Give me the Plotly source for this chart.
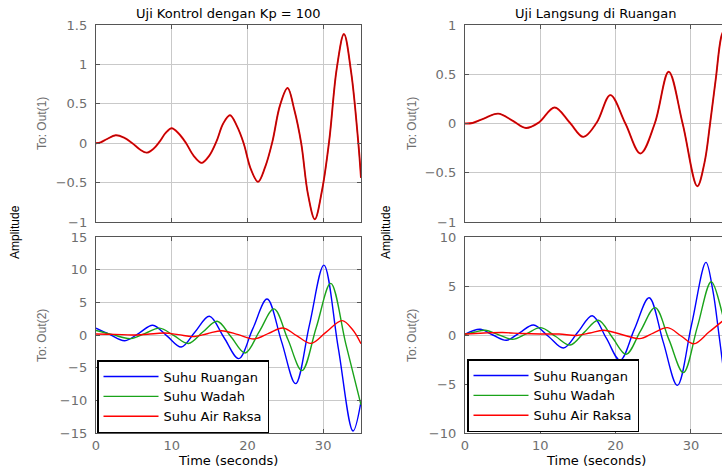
import plotly.graph_objects as go

# ---------------- data ----------------
# Top-left: Uji Kontrol dengan Kp = 100, Out(1)
tl_x = [0, 0.6, 1.4, 2.6, 3.7, 4.8, 5.8, 6.7, 7.6, 8.4, 9.2, 10.0, 10.95, 11.9, 12.9, 13.95, 14.95, 15.9, 16.8, 17.7, 18.6, 19.5, 20.45, 21.4, 22.35, 23.3, 24.3, 25.3, 26.2, 27.1, 28.0, 28.9, 29.85, 30.8, 31.8, 32.75, 33.7, 34.65, 35]
tl_y = [0, 0.01, 0.05, 0.10, 0.07, 0.0, -0.08, -0.12, -0.07, 0.02, 0.13, 0.19, 0.12, 0.0, -0.16, -0.25, -0.16, 0.02, 0.25, 0.355, 0.22, 0.0, -0.33, -0.49, -0.30, 0.02, 0.48, 0.70, 0.42, 0.0, -0.65, -0.965, -0.60, 0.03, 0.95, 1.385, 0.90, 0.0, -0.44]

# Top-right: Uji Langsung di Ruangan, Out(1)
tr_x = [0, 1.0, 2.5, 4.4, 6.3, 8.1, 9.8, 11.9, 13.9, 15.7, 17.5, 19.3, 21.3, 23.3, 25.2, 27.05, 28.9, 30.85, 31.8, 32.55, 33.3, 34.1, 34.6]
tr_y = [0, 0.005, 0.05, 0.10, 0.03, -0.045, 0.01, 0.163, 0.01, -0.136, 0.01, 0.288, 0.0, -0.305, 0.0, 0.525, 0.0, -0.637, -0.40, 0.0, 0.45, 0.90, 0.97]

# Bottom-left: Out(2)
bl_blue_x = [0, 1.8, 3.8, 5.7, 7.5, 9.4, 11.26, 13.1, 14.97, 16.9, 18.85, 20.7, 22.6, 24.5, 26.36, 28.2, 30.1, 32.0, 33.95, 35]
bl_blue_y = [1.05, 0.1, -0.87, 0.3, 1.5, -0.17, -1.84, 0.5, 2.86, -0.38, -3.62, 0.94, 5.5, -0.98, -7.45, 1.6, 10.7, -2.0, -14.7, -10.2]
bl_green_x = [0, 2.2, 4.6, 6.5, 8.4, 10.3, 12.2, 14.1, 16.0, 17.85, 19.7, 21.6, 23.5, 25.35, 27.2, 29.1, 31.0, 33.0, 35]
bl_green_y = [0.7, 0.05, -0.55, 0.25, 1.05, -0.1, -1.3, 0.45, 2.1, -0.3, -2.75, 0.6, 4.0, -0.7, -5.45, 1.2, 7.9, -1.4, -10.7]
bl_red_x = [0, 2.5, 4.8, 6.8, 9.0, 10.9, 12.8, 14.7, 16.6, 18.8, 20.9, 22.8, 24.7, 26.5, 28.4, 30.4, 32.5, 33.9, 35]
bl_red_y = [0.15, 0.1, 0.0, 0.12, 0.3, 0.05, -0.25, 0.2, 0.66, 0.05, -0.6, 0.25, 1.07, -0.1, -1.28, 0.45, 2.2, 0.8, -1.33]

# Bottom-right: Out(2)
br_blue_x = [0, 2.0, 3.7, 5.5, 7.3, 9.1, 11.1, 13.07, 15.0, 16.9, 18.75, 20.6, 22.5, 24.45, 26.3, 28.2, 30.1, 32.0, 32.9, 33.7, 34.1, 34.6]
br_blue_y = [0.07, 0.58, 0.0, -0.54, 0.25, 1.02, -0.15, -1.33, 0.3, 1.97, -0.3, -2.58, 0.6, 3.8, -0.65, -5.14, 1.1, 7.41, 4.6, 0.2, -2.2, -5.2]
br_green_x = [0, 1.3, 2.66, 4.5, 6.3, 8.2, 10.06, 12.0, 13.96, 15.8, 17.7, 19.55, 21.4, 23.3, 25.25, 27.1, 29.0, 30.85, 32.7, 34.1, 34.6]
br_green_y = [0.07, 0.3, 0.48, 0.02, -0.44, 0.15, 0.75, -0.13, -1.02, 0.24, 1.5, -0.23, -1.97, 0.4, 2.79, -0.5, -3.84, 0.8, 5.44, 2.4, 0.5]
br_red_x = [0, 2.5, 5.0, 7.5, 10.0, 12.5, 14.8, 16.6, 18.4, 20.8, 23.2, 25.0, 26.9, 28.7, 30.4, 32.4, 34.4]
br_red_y = [0.1, 0.2, 0.25, 0.15, 0.1, 0.1, -0.05, 0.2, 0.48, 0.05, -0.37, 0.2, 0.75, -0.1, -0.9, 0.3, 1.55]

series_names = ["Suhu Ruangan", "Suhu Wadah", "Suhu Air Raksa"]
titles = ["Uji Kontrol dengan Kp = 100", "Uji Langsung di Ruangan"]
x_ticks = [0, 10, 20, 30]

# ---------------- styling ----------------
W, H = 722, 470
BLUE, GREEN, RED = "#0000ff", "#1aa31a", "#ff0000"
DARKRED = "#8a1010"
AX = "#555555"
GRID = "#c9c9c9"
TICKC = "#6e6e6e"
HFONT = "DejaVu Sans"
VFONT = "Liberation Sans"


def px(x):
    return x / W


def py(y):
    return 1 - y / H


fig = go.Figure()

# top-left
fig.add_trace(go.Scatter(x=tl_x, y=tl_y, mode="lines", line=dict(color=RED, width=1.9, shape="spline"),
                         xaxis="x", yaxis="y", showlegend=False, hoverinfo="skip"))
fig.add_trace(go.Scatter(x=tl_x, y=tl_y, mode="lines", line=dict(color=DARKRED, width=0.9, shape="spline"),
                         xaxis="x", yaxis="y", showlegend=False, hoverinfo="skip"))
# top-right
fig.add_trace(go.Scatter(x=tr_x, y=tr_y, mode="lines", line=dict(color=RED, width=1.9, shape="spline"),
                         xaxis="x2", yaxis="y2", showlegend=False, hoverinfo="skip"))
fig.add_trace(go.Scatter(x=tr_x, y=tr_y, mode="lines", line=dict(color=DARKRED, width=0.9, shape="spline"),
                         xaxis="x2", yaxis="y2", showlegend=False, hoverinfo="skip"))

# bottom-left
for (xs, ys, c, n) in [(bl_blue_x, bl_blue_y, BLUE, series_names[0]),
                       (bl_green_x, bl_green_y, GREEN, series_names[1]),
                       (bl_red_x, bl_red_y, RED, series_names[2])]:
    fig.add_trace(go.Scatter(x=xs, y=ys, mode="lines", name=n, legend="legend",
                             line=dict(color=c, width=1.4, shape="spline"),
                             xaxis="x3", yaxis="y3"))
# bottom-right
for (xs, ys, c, n) in [(br_blue_x, br_blue_y, BLUE, series_names[0]),
                       (br_green_x, br_green_y, GREEN, series_names[1]),
                       (br_red_x, br_red_y, RED, series_names[2])]:
    fig.add_trace(go.Scatter(x=xs, y=ys, mode="lines", name=n, legend="legend2",
                             line=dict(color=c, width=1.4, shape="spline"),
                             xaxis="x4", yaxis="y4"))

LX = [px(96), px(361)]
RX = [px(465), 1.0]
R_END = 34.13
TOPY = [py(222), py(25)]
BOTY = [py(433), py(237)]


def xax(domain, anchor, rng, labels):
    return dict(domain=domain, anchor=anchor, range=rng, tickvals=x_ticks,
                showticklabels=labels, showgrid=True, gridcolor=GRID, gridwidth=1,
                zeroline=False, showline=True, linecolor=AX, linewidth=1.3,
                mirror="ticks", ticks="inside", ticklen=4, tickcolor=AX,
                tickfont=dict(family=HFONT, size=13, color=TICKC), fixedrange=True)


def yax(domain, anchor, rng, dtick, mirror):
    return dict(domain=domain, anchor=anchor, range=rng, dtick=dtick, tick0=0,
                showgrid=True, gridcolor=GRID, gridwidth=1, zeroline=False,
                showline=True, linecolor=AX, linewidth=1.3, mirror=mirror,
                ticks="inside", ticklen=4, tickcolor=AX, ticklabelstandoff=5,
                tickfont=dict(family=HFONT, size=13, color=TICKC), fixedrange=True)


legend_common = dict(bgcolor="white", bordercolor="black", borderwidth=1.5,
                     font=dict(family=HFONT, size=13, color="black"),
                     xanchor="left", yanchor="bottom", itemwidth=55,
                     tracegroupgap=0)

fig.update_layout(
    width=W, height=H,
    margin=dict(l=0, r=0, t=0, b=0, autoexpand=False),
    paper_bgcolor="white", plot_bgcolor="white",
    hovermode=False,
    xaxis=xax(LX, "y", [0, 35], False),
    yaxis=yax(TOPY, "x", [-1, 1.5], 0.5, "ticks"),
    xaxis2=xax(RX, "y2", [0, R_END], False),
    yaxis2=yax(TOPY, "x2", [-1, 1], 0.5, False),
    xaxis3=xax(LX, "y3", [0, 35], True),
    yaxis3=yax(BOTY, "x3", [-15, 15], 5, "ticks"),
    xaxis4=xax(RX, "y4", [0, R_END], True),
    yaxis4=yax(BOTY, "x4", [-10, 10], 5, False),
    legend=dict(x=px(97), y=py(433), **legend_common),
    legend2=dict(x=px(467), y=py(432), **legend_common),
)


def note(text, x, y, size, color, family, angle=0, yanchor="middle"):
    return dict(text=text, x=px(x), y=py(y), xref="paper", yref="paper",
                xanchor="center", yanchor=yanchor, textangle=angle, showarrow=False,
                font=dict(family=family, size=size, color=color))


ann = [
    note(titles[0], 228.5, 4, 13, "black", HFONT, yanchor="top"),
    note(titles[1], 596, 4, 13, "black", HFONT, yanchor="top"),
    note("Time (seconds)", 228.5, 460, 13, "black", HFONT),
    note("Time (seconds)", 596, 460, 13, "black", HFONT),
    note("Amplitude", 15, 232, 12, "black", VFONT, -90),
    note("Amplitude", 386, 232, 12, "black", VFONT, -90),
    note("To: Out(1)", 42, 124, 12, TICKC, VFONT, -90),
    note("To: Out(1)", 412, 124, 12, TICKC, VFONT, -90),
    note("To: Out(2)", 42, 336, 12, TICKC, VFONT, -90),
    note("To: Out(2)", 412, 336, 12, TICKC, VFONT, -90),
]
fig.update_layout(annotations=ann)

fig.write_html("out.html", config={"displayModeBar": False},
               post_script="document.body.style.margin='0px';")
